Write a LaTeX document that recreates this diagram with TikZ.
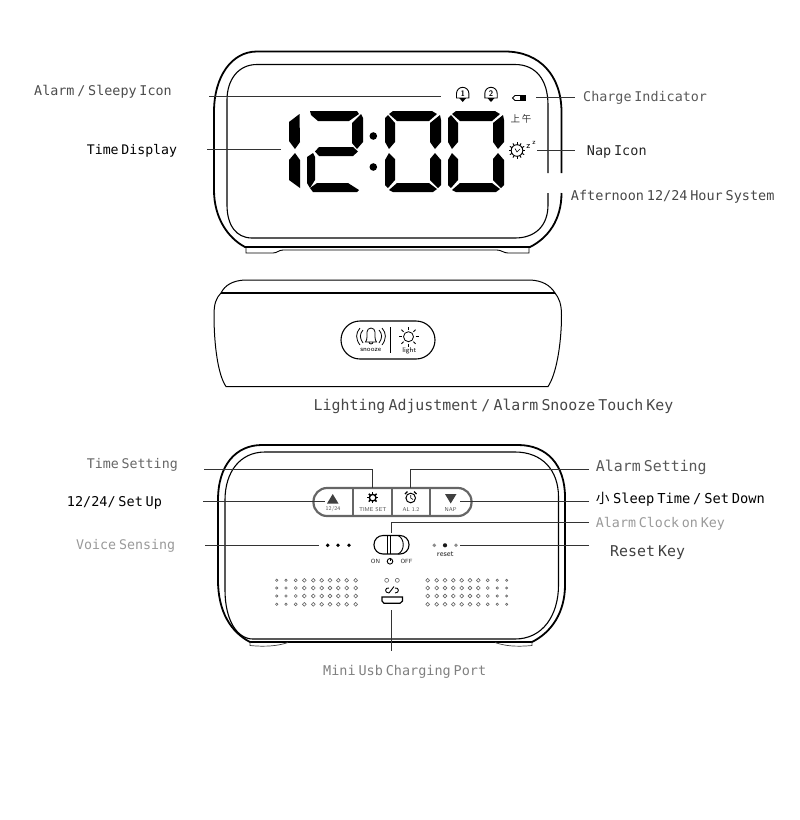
\documentclass[tikz,border=0pt]{standalone}
\usepackage{fontspec}
\setmainfont{DejaVu Sans}
\newfontfamily\lbl[WordSpace=0.35]{DejaVu Sans Mono}
\newfontfamily\cjk{Noto Sans CJK SC}
\tikzset{
 px/.style={x=1pt,y=-1pt},
 body/.style={draw=black,line width=1.8pt,line join=round},
 thin/.style={draw=black,line width=1.1pt},
 leader/.style={draw=black!80,line width=1pt},
 seg/.style={fill=black,draw=none},
 lab/.style={font=\lbl\fontsize{#1}{#1}\selectfont,inner sep=0pt,anchor=base west},
 tiny/.style={font=\sffamily\fontsize{5.6}{5.6}\selectfont,inner sep=0pt,text=black!70},
 icon/.style={line width=.9pt},
 hole/.style={draw=black!60,line width=.6pt},
}
\newcommand{\digitzero}[1]{%
 \begin{scope}[shift={(#1,0)}]
 \fill[seg] (393,111) -- (432,111) -- (437,114) -- (429,121) -- (397,121) -- (389,114) -- cycle;
 \fill[seg] (385,118) -- (388,115) -- (395,123) -- (395,142) -- (389,149) -- (385,142) -- cycle;
 \fill[seg] (440,115) -- (441,120) -- (441,142) -- (435,149) -- (430,142) -- (430,123) -- cycle;
 \fill[seg] (385,160) -- (389,153) -- (395,159) -- (395,180) -- (388,188) -- (385,185) -- cycle;
 \fill[seg] (441,160) -- (435,153) -- (430,159) -- (430,180) -- (438,188) -- (441,185) -- cycle;
 \fill[seg] (397,183) -- (429,183) -- (437,189) -- (433,192) -- (393,192) -- (389,190) -- cycle;
 \end{scope}}
\begin{document}
\begin{tikzpicture}[px]
\useasboundingbox (0,0) rectangle (800,820);
% --- front view
\draw[body] (561.5,173) -- (561.5,112) .. controls (561.5,76) and (540,51.5) .. (505,51.5) -- (257,51.5) .. controls (232,51.5) and (214,76) .. (214,112) -- (214,190) .. controls (214,218) and (228,238) .. (245,247) -- (530,247) .. controls (548,238) and (561.5,220) .. (561.5,193);
\draw[thin] (548,173) -- (548,105) .. controls (548,80) and (536,64.5) .. (515,64.5) -- (257,64.5) .. controls (238,64.5) and (227,80) .. (227,100) -- (227,205) .. controls (227,225) and (236,238) .. (252,238) -- (515,238) .. controls (535,238) and (548,226) .. (548,205) -- (548,193);
\draw[line width=.9pt] (246,247) -- (246,253) -- (273,253) .. controls (277,253) and (279,250) .. (283,250) -- (497,250) .. controls (501,250) and (504,253) .. (508,253) -- (529,253) -- (529,247);
% digit 1
\fill[seg] (289,122) -- (299.5,114) -- (300,142) -- (295,149) -- (289,141) -- cycle;
\fill[seg] (289,160) -- (295,153) -- (300,160) -- (300,188) -- (289,180) -- cycle;
% digit 2
\fill[seg] (310,111) -- (357,111) -- (359,114) -- (349,121) -- (318,121) -- (311,115) -- cycle;
\fill[seg] (361,114) -- (363,118) -- (363,142) -- (357,149) -- (352,143) -- (352,123) -- cycle;
\fill[seg] (319,147) -- (353,147) -- (358,151.5) -- (353,156) -- (319,156) -- (315,151.5) -- cycle;
\fill[seg] (307,157) -- (313,153) -- (315,157) -- (315,180) -- (310,188) -- (307,183) -- cycle;
\fill[seg] (317,183) -- (348,183) -- (359,190) -- (357,192) -- (313,192) -- (310,188) -- cycle;
% colon
\fill (373.3,136) circle (3.8);
\fill (373.3,167) circle (3.8);
\digitzero{0}
\digitzero{63}
% icons top
\foreach \nm/\x/\n in {ba/462.7/1,bb/491/2}{
 \draw[icon] (\x-6.2,98) -- (\x-6.2,93.5) arc (180:360:6.2) -- (\x+6.2,98) -- cycle;
 \fill (\x-3.5,98) -- (\x+3.5,98) -- (\x,102) -- cycle;
 \node[inner sep=0pt,font=\sffamily\bfseries\fontsize{8}{8}\selectfont] (\nm) at (\x,93.5) {\n};
}
% battery
\draw[icon] (512.5,98) -- (515,95.5) -- (525.5,95.5) -- (525.5,100.5) -- (515,100.5) -- cycle;
\fill (519.5,95) rectangle (526,101);
\node[inner sep=0pt,font=\cjk\fontsize{9.5}{9.5}\selectfont,text=black!80] (ampm) at (521,119) {上\hspace{2pt}午};
% nap icon
\draw[icon] (517,150.5) circle (5.8);
\foreach \a in {0,30,...,330}{\draw[icon] (517,150.5) ++(\a:5.8) -- ++(\a:2.4);}
\draw[line width=.6pt] (515,148.5) -- (517,152) -- (520,149);
\node[inner sep=0pt,font=\sffamily\fontsize{9}{9}\selectfont] (za) at (528.5,146) {z};
\node[inner sep=0pt,font=\sffamily\fontsize{7}{7}\selectfont] (zb) at (534,143) {z};
% leaders front
\coordinate (a1) at (209,96.7); \coordinate (a2) at (441,96.7);
\draw[leader] (a1) -- (a2);
\coordinate (b1) at (207,149.5); \coordinate (b2) at (281,149.5);
\draw[leader] (b1) -- (b2);
\coordinate (c1) at (536,97) ; \coordinate (c2) at (575,97);
\draw[leader] (c1) -- (c2);
\coordinate (d1) at (537,150); \coordinate (d2) at (575,150);
\draw[leader] (d1) -- (d2);
\node[lab=13.4,text=black!70] (t1) at (34,95.7) {Alarm / Sleepy Icon};
\node[lab=13.2] (t2) at (86.7,154.3) {Time Display};
\node[lab=13.4,text=black!65] (t3) at (583,101.7) {Charge Indicator};
\node[lab=13.5,text=black!85] (t4) at (586.7,155) {Nap Icon};
\node[lab=13.5,text=black!72] (t5) at (570.7,200.7) {Afternoon 12/24 Hour System};
% --- top view
\draw[line width=1pt] (221,293) .. controls (225,285) and (233,280.5) .. (245,280) -- (530,280) .. controls (542,280.5) and (550,285) .. (555,293);
\draw[line width=1.8pt] (221,293) -- (555,293);
\draw[line width=1pt] (221,293) .. controls (216,298) and (214,304) .. (214,315) .. controls (214,345) and (218,375) .. (226,386.5) -- (548,386.5) .. controls (556,375) and (561.5,345) .. (561.5,315) .. controls (561.5,304) and (559,298) .. (555,293);
\draw[line width=1.1pt,rounded corners=19pt] (341,321) rectangle (435,359);
\draw[line width=.8pt] (390.7,327) -- (390.7,353);
% snooze bell
\draw[line width=.8pt] (365.5,342) .. controls (367.5,340) and (367,334) .. (367,332) arc (180:360:4) .. controls (375,334) and (374.5,340) .. (376.5,342) -- cycle;
\draw[line width=.8pt] (369,342) arc (180:0:2);
\draw[line width=.8pt] (360,328) .. controls (355.5,333) and (355.5,339) .. (360,345);
\draw[line width=.8pt] (363,330) .. controls (359.5,334) and (359.5,338) .. (363,343);
\draw[line width=.8pt] (382,328) .. controls (386.5,333) and (386.5,339) .. (382,345);
\draw[line width=.8pt] (379,330) .. controls (382.5,334) and (382.5,338) .. (379,343);
\node[inner sep=0pt,font=\sffamily\fontsize{7}{7}\selectfont] (snz) at (370.7,350.3) {snooze};
\node[inner sep=0pt,font=\sffamily\fontsize{7}{7}\selectfont] (lgt) at (409.3,350.3) {light};
\draw[line width=.8pt] (408.5,336.7) circle (5);
\foreach \a in {0,45,...,315}{\draw[line width=.8pt] (408.5,336.7) ++(\a:7) -- ++(\a:3);}
\node[lab=14.9,text=black!72] (t6) at (313.5,410) {Lighting Adjustment / Alarm Snooze Touch Key};
% --- back view
\draw[body] (262,445) -- (518,445) .. controls (547,445) and (565,465) .. (565,497) -- (565,585) .. controls (565,612) and (552,632) .. (532,642) -- (250,642) .. controls (231,632) and (218,612) .. (218,580) -- (218,500) .. controls (218,465) and (236,445) .. (262,445) -- cycle;
\draw[thin] (265,452) -- (515,452) .. controls (542,452) and (558.5,470) .. (558.5,497) -- (558.5,585) .. controls (558.5,615) and (543,639) .. (515,639) -- (253,639) .. controls (237,639) and (225,620) .. (225,590) -- (225,500) .. controls (225,472) and (240,452) .. (265,452) -- cycle;
\draw[line width=.7pt,draw=black!75] (250,642) -- (250,645.5) .. controls (265,647) and (278,646) .. (288,642.5);
\draw[line width=.7pt,draw=black!75] (532,642) -- (532,645.5) .. controls (516,647) and (505,646) .. (495,642.5);
% keypad
\draw[line width=2.2pt,draw=black!60,rounded corners=13.5pt] (313.5,488) rectangle (471.5,516);
\draw[line width=1.5pt,draw=black!60] (353,489) -- (353,515) (392,489) -- (392,515) (430,489) -- (430,515);
\fill[black!75] (332.7,494) -- (338.5,503.5) -- (327,503.5) -- cycle;
\fill[black!75] (445,494) -- (456.5,494) -- (450.7,503.5) -- cycle;
\node[tiny] (k1) at (333,509.5) {12/24};
\node[tiny] (k2) at (372.7,509.5) {TIME SET};
\node[tiny] (k3) at (411,509.5) {AL 1.2};
\node[tiny] (k4) at (450.7,509.5) {NAP};
\draw[line width=1.4pt] (372.7,497.7) circle (3.3);
\foreach \a in {0,45,...,315}{\draw[line width=1.5pt] (372.7,497.7) ++(\a:3.2) -- ++(\a:2.3);}
\draw[line width=1pt] (410.7,498) circle (4.8);
\draw[line width=.6pt] (410.7,495) -- (410.7,498) -- (413,499.5);
\draw[line width=1.1pt] (405,494) -- (407.5,491.5) (416.5,494) -- (414,491.5);
% switch
\draw[line width=1.1pt,rounded corners=9pt] (374,535.5) rectangle (409,554);
\draw[line width=.7pt] (387.5,535.5) -- (387.5,554);
\draw[line width=.9pt] (390.7,535.5) -- (390.7,554);
\draw[line width=.9pt] (398,535.5) .. controls (405,538.5) and (405,551) .. (398,554);
\node[tiny,text=black!85,font=\sffamily\fontsize{6}{6}\selectfont] (son) at (375.5,561) {ON};
\node[tiny,text=black!85,font=\sffamily\fontsize{6}{6}\selectfont] (soff) at (406.5,561) {OFF};
\draw[line width=.9pt] (390,561.3) circle (2.8);
\draw[line width=.9pt] (390,557.5) -- (390,561);
% dots
\foreach \x in {327.7,338,349}{\fill (\x,545.3) circle (1.9);}
\fill[black!45] (434.3,545.3) circle (1.9);
\fill[black!90] (445,545.3) circle (2.1);
\fill[black!45] (456,545.3) circle (1.9);
\node[inner sep=0pt,font=\sffamily\fontsize{8}{8}\selectfont,text=black!85] (rst) at (445.3,554.5) {reset};
% speakers
\foreach \y in {580.3,588,596,604.3}{
 \foreach \x/\r in {276.7/1.2,286/1.2,295.7/1.5,304.3/1.9,313.3/1.9,321.7/1.9,330/1.9,338.3/1.9,346.7/1.9,355.7/1.9}{\draw[hole] (\x,\y) circle (\r);}
 \foreach \x/\r in {427.7/1.9,436.7/1.9,445/1.9,453.3/1.9,461.7/1.9,470/1.9,478.3/1.9,487.7/1.5,497.3/1.2,506.7/1.1}{\draw[hole] (\x,\y) circle (\r);}
}
\draw[hole] (386.7,580.3) circle (2) (397.3,580.3) circle (2);
% usb
\draw[line width=1.2pt] (382,597) -- (402.5,597) -- (402.5,601) -- (400,603.3) -- (384,603.3) -- (382,601) -- cycle;
\draw[icon] (389,588) .. controls (385,587) and (384,593) .. (389,593);
\draw[icon] (395,588) .. controls (399,587) and (400,593) .. (395,593);
\draw[icon] (389,593) -- (394,586.5);
% leaders back
\coordinate (e1) at (204,469.3); \coordinate (e2) at (372.7,488);
\draw[leader] (e1) -| (e2);
\coordinate (f1) at (589,469.3); \coordinate (f2) at (410.7,488);
\draw[leader] (f1) -| (f2);
\coordinate (g1) at (203,501.7); \coordinate (g2) at (325,501.7);
\draw[leader] (g1) -- (g2);
\coordinate (h1) at (589,501.7); \coordinate (h2) at (460,501.7);
\draw[leader] (h1) -- (h2);
\coordinate (i1) at (589,522.7); \coordinate (i2) at (391,533);
\draw[leader] (i1) -| (i2);
\coordinate (j1) at (205,545.3); \coordinate (j2) at (319,545.3);
\draw[leader] (j1) -- (j2);
\coordinate (k5) at (589,545.3); \coordinate (k6) at (460,545.3);
\draw[leader] (k5) -- (k6);
\coordinate (l1) at (391.7,610); \coordinate (l2) at (391.7,651);
\draw[leader] (l1) -- (l2);
\node[lab=13.3,text=black!60] (t7) at (86.7,468) {Time Setting};
\node[lab=13.5] (t8) at (66.7,506.7) {12/24/ Set Up};
\node[lab=13.3,text=black!40] (t9) at (76,549.3) {Voice Sensing};
\node[lab=14.9,text=black!65] (t10) at (595.7,471.7) {Alarm Setting};
\node[lab=13.7] (t11a) at (595.7,503.3) {{\cjk 小}};
\node[lab=13.7] (t11) at (613,503.3) {Sleep Time / Set Down};
\node[lab=13.35,text=black!40] (t12) at (595.7,527.3) {Alarm Clock on Key};
\node[lab=14.9,text=black!75] (t13) at (610,556.7) {Reset Key};
\node[lab=13.5,text=black!50] (t14) at (323,675) {Mini Usb Charging Port};
\end{tikzpicture}
\end{document}
